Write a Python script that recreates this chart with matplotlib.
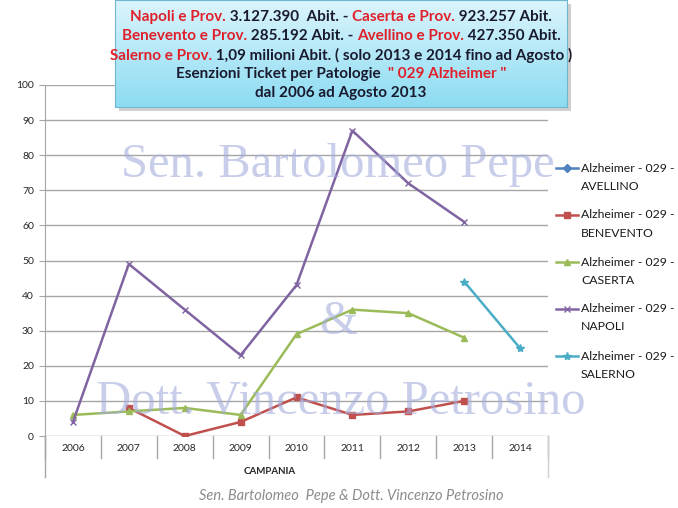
import numpy as np
import matplotlib
matplotlib.use("Agg")
import matplotlib.pyplot as plt
from matplotlib.offsetbox import TextArea, HPacker, VPacker, AnnotationBbox
from matplotlib.patches import Rectangle
from matplotlib.lines import Line2D

plt.rcParams['font.family'] = ['Lato', 'DejaVu Sans']

years = ['2006', '2007', '2008', '2009', '2010', '2011', '2012', '2013', '2014']
avellino = [np.nan] * 9
benevento = [np.nan, 8, 0, 4, 11, 6, 7, 10, np.nan]
caserta = [6, 7, 8, 6, 29, 36, 35, 28, np.nan]
napoli = [4, 49, 36, 23, 43, 87, 72, 61, np.nan]
salerno = [np.nan, np.nan, np.nan, np.nan, np.nan, np.nan, np.nan, 44, 25]

series = [
    ('AVELLINO', avellino, '#4F81BD', 'D', 4),
    ('BENEVENTO', benevento, '#C0504D', 's', 5),
    ('CASERTA', caserta, '#9BBB59', '^', 5),
    ('NAPOLI', napoli, '#8064A2', 'x', 5),
    ('SALERNO', salerno, '#4BACC6', '*', 6),
]

W, H = 678, 508
fig = plt.figure(figsize=(6.78, 5.08), dpi=100)
fig.patch.set_facecolor('white')

ax = fig.add_axes([45 / W, 1 - 436 / H, (548 - 45) / W, (436 - 85) / H])
x = np.arange(len(years))
for name, vals, col, mk, ms in series:
    ax.plot(x, vals, color=col, lw=1.8, marker=mk, ms=ms,
            markeredgecolor=col, markerfacecolor=col, zorder=3)

ax.set_xlim(-0.5, len(years) - 0.5)
ax.set_ylim(0, 100)
ax.set_yticks(range(0, 101, 10))
ax.yaxis.grid(True, color='#a6a6a6', lw=1)
ax.set_axisbelow(True)
for s in ['top', 'right', 'bottom']:
    ax.spines[s].set_visible(False)
ax.spines['left'].set_color('#a6a6a6')
ax.tick_params(axis='y', length=4, color='#a6a6a6', labelsize=7.5, pad=4)
ax.tick_params(axis='x', length=0, labelsize=7.5, pad=6)
ax.set_xticks(x)
ax.set_xticklabels(years)
for lab in ax.get_yticklabels() + ax.get_xticklabels():
    lab.set_color('#262626')

# category separators and outer axis
trans = ax.get_xaxis_transform()
for b in np.arange(-0.5, len(years), 1.0):
    ax.plot([b, b], [0, -22 / 351], color='#a6a6a6', lw=1, transform=trans, clip_on=False)
ax.plot([-0.5, -0.5], [0, -41 / 351], color='#a6a6a6', lw=1, transform=trans, clip_on=False)
ax.plot([len(years) - 0.5] * 2, [0, -41 / 351], color='#d0d0d0', lw=1, transform=trans, clip_on=False)
fig.text(270 / W, 1 - 471 / H, 'CAMPANIA', fontsize=7, fontweight='bold',
         color='#262626', ha='center', va='center')

# legend (drawn by hand so the key sits on the first text line, like Excel)
for i, (name, _, c, m, ms) in enumerate(series):
    yy = 1 - (168 + 47 * i) / H
    fig.add_artist(Line2D([556 / W, 578 / W], [yy, yy], color=c, lw=1.8, transform=fig.transFigure))
    fig.add_artist(Line2D([567 / W], [yy], color=c, marker=m, ms=ms, markeredgecolor=c,
                          markerfacecolor=c, transform=fig.transFigure))
    fig.text(581 / W, yy, 'Alzheimer - 029 -', fontsize=8.8, color='#1a1a1a', va='center')
    fig.text(581 / W, yy - 18 / H, name, fontsize=8.8, color='#1a1a1a', va='center')

# watermarks
wm = dict(family='Liberation Serif', color='#a4acdc', alpha=0.6, ha='center', va='center', zorder=5)
fig.text(338 / W, 1 - 165 / H, 'Sen. Bartolomeo Pepe', fontsize=35, **wm)
fig.text(338 / W, 1 - 322 / H, '&', fontsize=35, **wm)
fig.text(341 / W, 1 - 401 / H, 'Dott. Vincenzo Petrosino', fontsize=35, **wm)

fig.text(351 / W, 1 - 496 / H, 'Sen. Bartolomeo  Pepe & Dott. Vincenzo Petrosino',
         fontsize=10.5, style='italic', color='#8c8c8c', ha='center', va='center')

# title box with gradient
shadow = Rectangle((119 / W, 1 - 111 / H), (567 - 115) / W, 107 / H, transform=fig.transFigure,
                   facecolor='#b0b0b0', edgecolor='none', zorder=8, alpha=0.6)
fig.add_artist(shadow)
bax = fig.add_axes([115 / W, 1 - 107 / H, (567 - 115) / W, 107 / H], zorder=9)
grad = np.linspace(0, 1, 64)[:, None]
top = np.array([0.86, 0.96, 0.99])
bot = np.array([0.55, 0.86, 0.95])
img = top[None, None, :] * (1 - grad[..., None]) + bot[None, None, :] * grad[..., None]
bax.imshow(img, aspect='auto', extent=[0, 1, 0, 1])
bax.set_xticks([])
bax.set_yticks([])
for s in bax.spines.values():
    s.set_color('#6fb7cc')

red = '#E0202A'
dark = '#1a1a2e'
lines = [
    [('Napoli e Prov.', red), (' 3.127.390  Abit. - ', dark), ('Caserta e Prov.', red), (' 923.257 Abit.', dark)],
    [('Benevento e Prov.', red), (' 285.192 Abit. - ', dark), ('Avellino e Prov.', red), (' 427.350 Abit.', dark)],
    [('Salerno e Prov.', red), (' 1,09 milioni Abit. ( solo 2013 e 2014 fino ad Agosto )', dark)],
    [('Esenzioni Ticket per Patologie  ', dark), ('" 029 Alzheimer "', red)],
    [('dal 2006 ad Agosto 2013', dark)],
]
rows = []
for ln in lines:
    parts = [TextArea(t, textprops=dict(color=c, fontsize=11, fontweight='bold')) for t, c in ln]
    rows.append(HPacker(children=parts, align='baseline', pad=0, sep=0))
box = VPacker(children=rows, align='center', pad=0, sep=3.5)
ab = AnnotationBbox(box, (341 / W, 1 - 55 / H), xycoords='figure fraction', frameon=False,
                    box_alignment=(0.5, 0.5), zorder=10)
fig.add_artist(ab)

fig.savefig('out.png', dpi=100)
